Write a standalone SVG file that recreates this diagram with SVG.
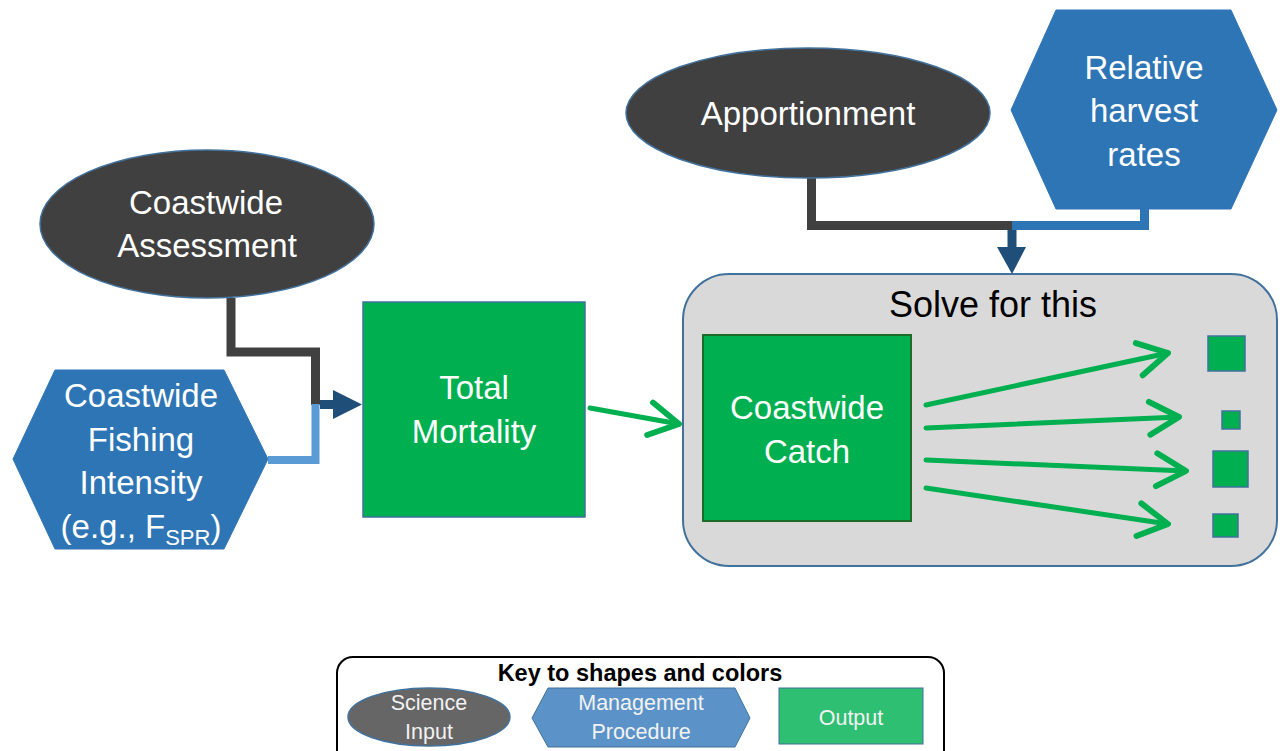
<svg xmlns="http://www.w3.org/2000/svg" width="1280" height="751" viewBox="0 0 1280 751">
<style>
.t{font-family:"Liberation Sans",Arial,sans-serif;font-size:33px;fill:#FFFFFF;text-anchor:middle}
.k{font-family:"Liberation Sans",Arial,sans-serif;font-size:21.5px;fill:#F2F2F2;text-anchor:middle}
.sci{fill:#404040;stroke:#41719C;stroke-width:1.5}
.mgt{fill:#2E75B6;stroke:#2E75B6;stroke-width:1}
.out{fill:#00B050;stroke:#41719C;stroke-width:1.5}
.ga{fill:none;stroke:#00B050;stroke-width:5;stroke-linecap:round;marker-end:url(#open)}
</style>
<defs>
<marker id="open" markerUnits="userSpaceOnUse" markerWidth="40" markerHeight="40" viewBox="0 0 34 34" refX="30" refY="17" orient="auto" overflow="visible">
<path d="M5,3 L30,17 L5,31" fill="none" stroke="#00B050" stroke-width="5" stroke-linecap="round" stroke-linejoin="round"/>
</marker>
</defs>
<rect width="1280" height="751" fill="#FFFFFF"/>

<g id="solve-box">
<rect x="683" y="274" width="594" height="292" rx="46" fill="#D9D9D9" stroke="#41719C" stroke-width="2"/>
<text x="993" y="317" font-family="Liberation Sans, Arial, sans-serif" font-size="36" fill="#000000" text-anchor="middle">Solve for this</text>
</g>

<g id="connectors">
<polyline points="231,298 231,352 315.5,352 315.5,405" fill="none" stroke="#404040" stroke-width="9"/>
<polyline points="268,460 315.5,460 315.5,404" fill="none" stroke="#5B9BD5" stroke-width="8"/>
<rect x="320" y="400" width="15" height="9" fill="#1F4E79"/>
<polygon points="333,390 362,404.5 333,419" fill="#1F4E79"/>
<polyline points="811.5,178 811.5,225.5 1013,225.5" fill="none" stroke="#404040" stroke-width="9"/>
<polyline points="1012,225.5 1144.5,225.5 1144.5,209" fill="none" stroke="#2E75B6" stroke-width="9"/>
<rect x="1007.5" y="230" width="9" height="18" fill="#1F4E79"/>
<polygon points="997,247 1026,247 1012,274" fill="#1F4E79"/>
<line class="ga" x1="590" y1="408" x2="679" y2="424"/>
<line class="ga" x1="926" y1="405" x2="1168" y2="353"/>
<line class="ga" x1="926" y1="428" x2="1179" y2="417"/>
<line class="ga" x1="926" y1="460" x2="1186" y2="471"/>
<line class="ga" x1="926" y1="488" x2="1168" y2="524"/>
</g>

<g id="coastwide-assessment">
<ellipse class="sci" cx="207" cy="224" rx="167" ry="74"/>
<text class="t" x="206" y="214">Coastwide</text>
<text class="t" x="207" y="257">Assessment</text>
</g>

<g id="fishing-intensity">
<polygon class="mgt" points="13,459 55,370 224,370 268,459 224,549 55,549"/>
<text class="t" x="141" y="407">Coastwide</text>
<text class="t" x="141" y="451">Fishing</text>
<text class="t" x="141" y="494">Intensity</text>
<text class="t" x="141" y="538">(e.g., F<tspan font-size="22" dy="7">SPR</tspan><tspan dy="-7">)</tspan></text>
</g>

<g id="total-mortality">
<rect class="out" x="363" y="302" width="222" height="215"/>
<text class="t" x="474" y="399">Total</text>
<text class="t" x="474" y="443">Mortality</text>
</g>

<g id="apportionment">
<ellipse class="sci" cx="808" cy="113" rx="182" ry="65"/>
<text class="t" x="808" y="125">Apportionment</text>
</g>

<g id="relative-harvest">
<polygon class="mgt" points="1011,110 1056,10 1231,10 1277,110 1231,209 1056,209"/>
<text class="t" x="1144" y="79">Relative</text>
<text class="t" x="1144" y="122">harvest</text>
<text class="t" x="1144" y="166">rates</text>
</g>

<g id="coastwide-catch">
<rect x="703" y="335" width="208" height="186" fill="#00B050" stroke="#1E6B2A" stroke-width="2"/>
<text class="t" x="807" y="419">Coastwide</text>
<text class="t" x="807" y="463">Catch</text>
</g>

<g id="output-squares">
<rect class="out" x="1208" y="336" width="37" height="35"/>
<rect class="out" x="1222" y="411" width="18" height="18"/>
<rect class="out" x="1213" y="451" width="35" height="36"/>
<rect class="out" x="1213" y="514" width="25" height="23"/>
</g>

<g id="key">
<rect x="337" y="657" width="607" height="110" rx="16" fill="#FFFFFF" stroke="#000000" stroke-width="2"/>
<text x="640" y="681" font-family="Liberation Sans, Arial, sans-serif" font-size="23.5" font-weight="bold" fill="#000000" text-anchor="middle">Key to shapes and colors</text>
<ellipse cx="429" cy="717" rx="81" ry="29" fill="#666666" stroke="#41719C" stroke-width="1.5"/>
<text class="k" x="429" y="710">Science</text>
<text class="k" x="429" y="739">Input</text>
<polygon points="532,718 548,688 735,688 750,718 735,747 548,747" fill="#5B93C9" stroke="#41719C" stroke-width="1"/>
<text class="k" x="641" y="710">Management</text>
<text class="k" x="641" y="739">Procedure</text>
<rect x="779" y="688" width="144" height="56" fill="#2EBF73" stroke="#41719C" stroke-width="1"/>
<text class="k" x="851" y="725">Output</text>
</g>
</svg>
